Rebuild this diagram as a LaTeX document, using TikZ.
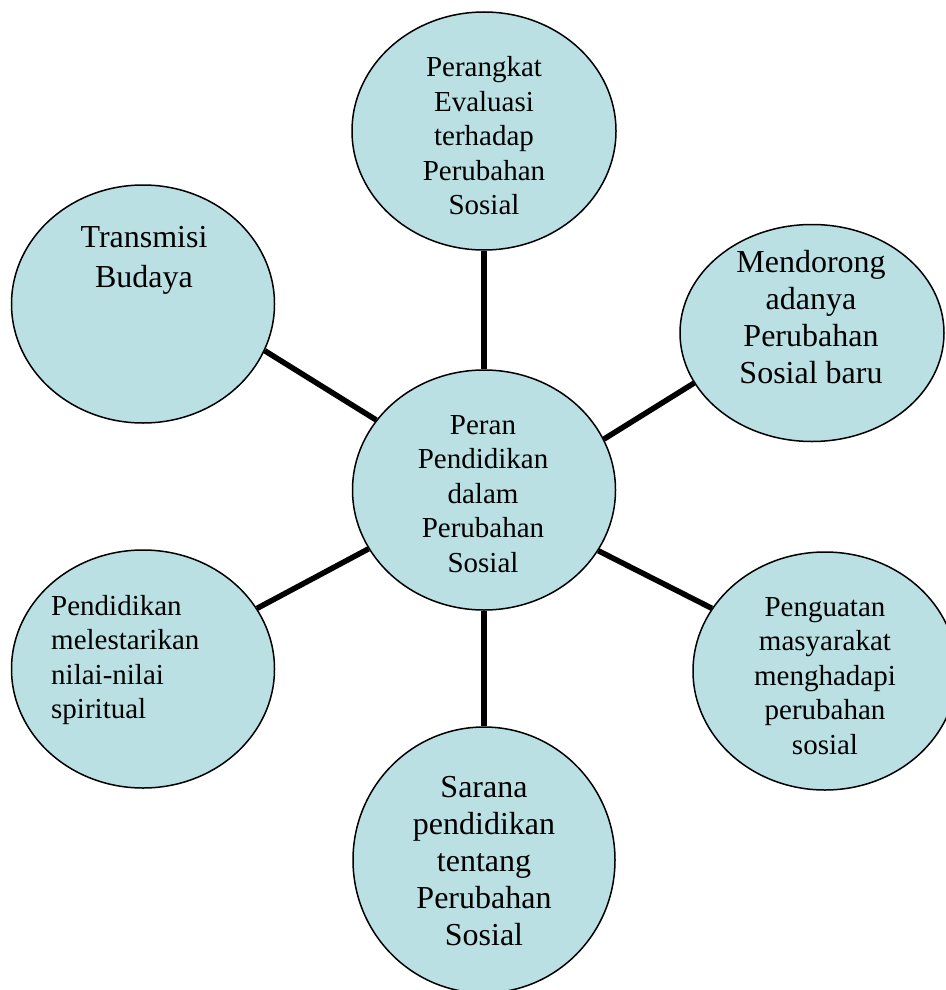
\documentclass[tikz,border=0pt]{standalone}
\usepackage{fontspec}
\setmainfont{Liberation Serif}
\usetikzlibrary{shapes.geometric}
\definecolor{bubble}{RGB}{186,224,227}
\begin{document}
\begin{tikzpicture}[x=1pt,y=-1pt,
  bub/.style={ellipse,draw=black,line width=1.5pt,fill=bubble,inner sep=0pt},
  conn/.style={draw=black,line width=5.5pt},
  txt/.style={align=center,inner sep=0pt,text=black},
  fsmall/.style={font=\fontsize{29}{34.5}\selectfont},
  fbig/.style={font=\fontsize{32}{37}\selectfont}]
\useasboundingbox (0,0) rectangle (945,990);
% bubbles
\node[bub,minimum width=264pt,minimum height=238pt] (top) at (484,131) {};
\node[bub,minimum width=263pt,minimum height=238pt] (tl) at (143,304) {};
\node[bub,minimum width=264pt,minimum height=217pt] (tr) at (812,333) {};
\node[bub,minimum width=263pt,minimum height=240pt] (ctr) at (484,490) {};
\node[bub,minimum width=263pt,minimum height=238pt] (bl) at (143,669) {};
\node[bub,minimum width=264pt,minimum height=238pt] (br) at (825,671) {};
\node[bub,minimum width=262pt,minimum height=266pt] (bot) at (484,860) {};
% connectors
\draw[conn] (top.-90) -- (ctr.90);
\draw[conn] (tl.-21.4) -- (ctr.147.3);
\draw[conn] (ctr.23.7) -- (tr.-157.6);
\draw[conn] (ctr.-28) -- (br.151.6);
\draw[conn] (ctr.207.8) -- (bl.28.2);
\draw[conn] (ctr.-90) -- (bot.90);
% texts
\node[txt,fsmall] (ttop) at (484,136) {Perangkat\\Evaluasi\\terhadap\\Perubahan\\Sosial};
\node[txt,font=\fontsize{32}{40}\selectfont] (ttl) at (144,260) {Transmisi\\Budaya};
\node[txt,fbig] (ttr) at (811,317) {Mendorong\\adanya\\Perubahan\\Sosial baru};
\node[txt,fsmall] (tctr) at (483,494) {Peran\\Pendidikan\\dalam\\Perubahan\\Sosial};
\node[txt,fsmall] (tbr) at (825,676) {Penguatan\\masyarakat\\menghadapi\\perubahan\\sosial};
\node[txt,fsmall,align=left,anchor=west] (tbl) at (51,660) {Pendidikan\\melestarikan\\nilai-nilai\\spiritual};
\node[txt,fbig] (tbot) at (484,861) {Sarana\\pendidikan\\tentang\\Perubahan\\Sosial};
\end{tikzpicture}
\end{document}
